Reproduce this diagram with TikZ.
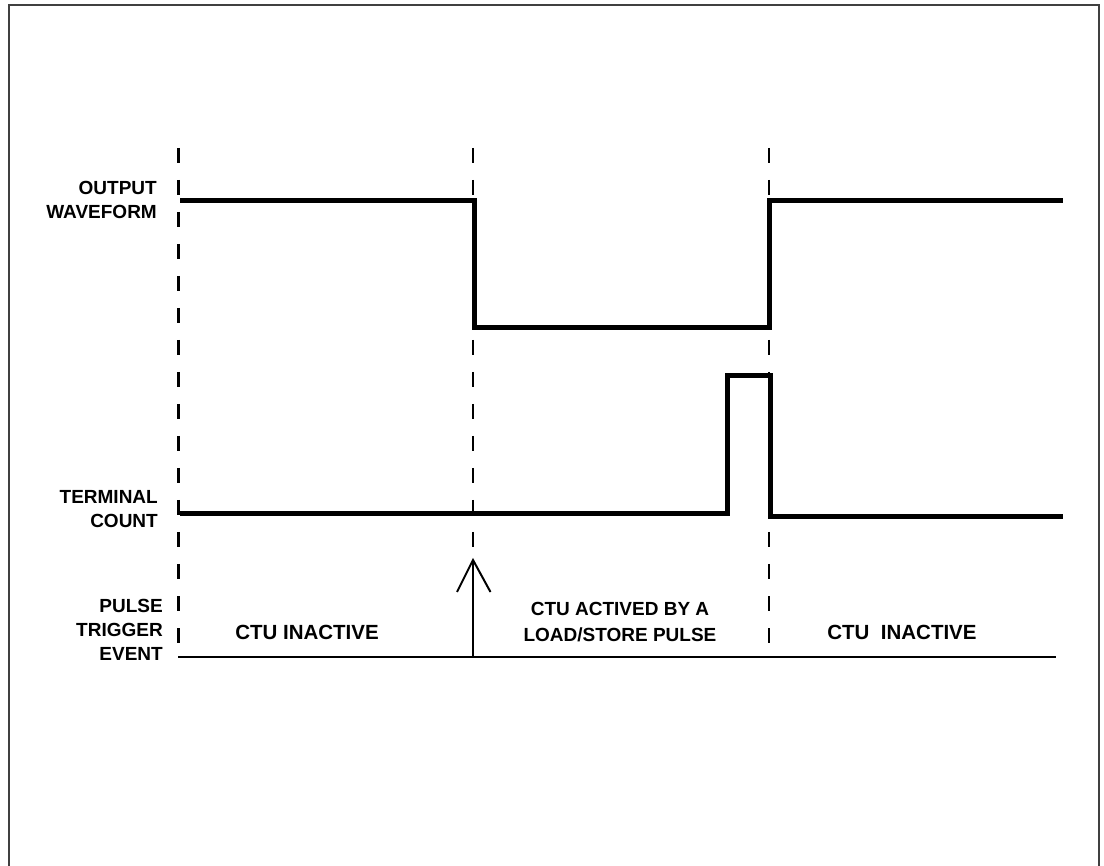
\documentclass[tikz,border=0pt]{standalone}
\usepackage{fontspec}
\setmainfont{Liberation Sans}
\begin{document}
\begin{tikzpicture}[x=1pt,y=-1pt,
  lbl/.style={font=\fontsize{19}{24}\selectfont\bfseries, inner sep=0pt, align=right, anchor=east},
  ctxt/.style={font=\fontsize{19}{26}\selectfont\bfseries, inner sep=0pt, align=center},
  itxt/.style={font=\fontsize{20.5}{26}\selectfont\bfseries, inner sep=0pt, align=center},
  wave/.style={line width=5pt, line join=miter, line cap=butt},
  guide/.style={line width=2.5pt, dash pattern=on 15pt off 17pt},
  base/.style={line width=2.5pt},
  frame/.style={line width=2pt, draw=black!75}]
\useasboundingbox (0,0) rectangle (1104,866);
% frame (bottom edge lies outside the picture)
\coordinate (fbl) at (8.5,866);
\coordinate (ftl) at (8.5,5);
\coordinate (ftr) at (1098.5,5);
\coordinate (fbr) at (1098.5,866);
\draw[frame] (fbl) -- (ftl) -- (ftr) -- (fbr);
% dashed guides
\coordinate (g1t) at (178.5,148); \coordinate (g1b) at (178.5,655);
\coordinate (g2t) at (473,148);   \coordinate (g2b) at (473,655);
\coordinate (g3t) at (769,148);   \coordinate (g3b) at (769,655);
\draw[guide] (g1t) -- (g1b);
\draw[guide] (g2t) -- (g2b);
\draw[guide] (g3t) -- (g3b);
% output waveform
\coordinate (o1) at (180,200.5);
\coordinate (o2) at (474,200.5);
\coordinate (o3) at (474,328);
\coordinate (o4) at (769.5,328);
\coordinate (o5) at (769.5,200.5);
\coordinate (o6) at (1063,200.5);
\draw[wave] (o1) -- (o2) -- (o3) -- (o4) -- (o5) -- (o6);
% terminal count
\coordinate (t1) at (180,514);
\coordinate (t2) at (727.5,514);
\coordinate (t3) at (727.5,375.5);
\coordinate (t4) at (770,375.5);
\coordinate (t5) at (770,516.5);
\coordinate (t6) at (1063,516.5);
\draw[wave] (t1) -- (t2) -- (t3) -- (t4) -- (t5) -- (t6);
% pulse trigger baseline and arrow
\coordinate (b1) at (178,657);
\coordinate (b2) at (1056,657);
\draw[base] (b1) -- (b2);
\coordinate (ab) at (473,657);
\coordinate (at) at (473,560);
\coordinate (al) at (457,592);
\coordinate (ar) at (490.5,592);
\draw[line width=2pt] (ab) -- (at);
\draw[line width=2pt, line join=miter] (al) -- (at) -- (ar);
% labels
\node[lbl] (lout) at (157,200) {OUTPUT\\WAVEFORM};
\node[lbl] (lterm) at (158,509) {TERMINAL\\COUNT};
\node[lbl] (lpulse) at (163,630) {PULSE\\TRIGGER\\EVENT};
\node[itxt] (inact1) at (307,632) {CTU INACTIVE};
\node[ctxt] (act) at (620,622) {CTU ACTIVED BY A\\LOAD/STORE PULSE};
\node[itxt] (inact2) at (902,632) {CTU\ \ INACTIVE};
\end{tikzpicture}
\end{document}
